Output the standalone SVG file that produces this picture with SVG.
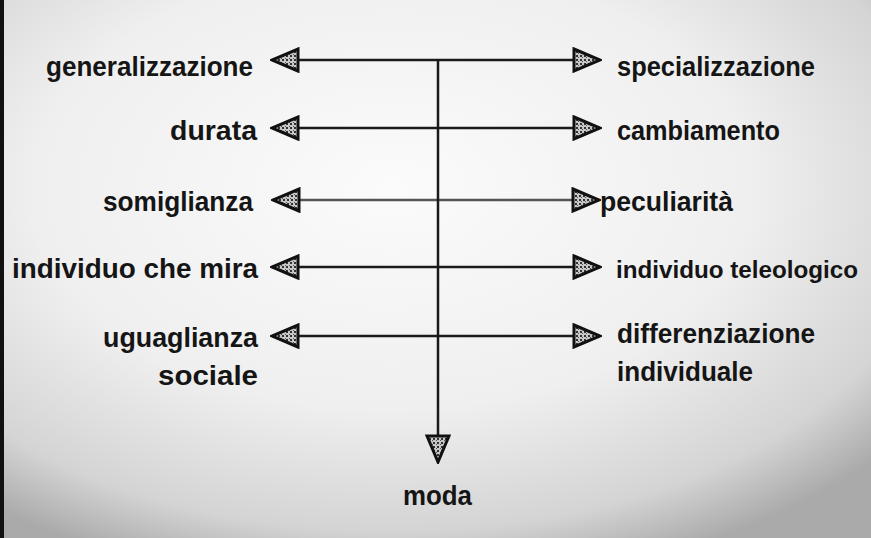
<svg xmlns="http://www.w3.org/2000/svg" width="871" height="538" viewBox="0 0 871 538">
<defs>
<radialGradient id="bg" cx="0.45" cy="0.35" r="0.75">
<stop offset="0" stop-color="#fbfbfb"/>
<stop offset="0.55" stop-color="#efefef"/>
<stop offset="0.85" stop-color="#d4d4d4"/>
<stop offset="1" stop-color="#aaaaaa"/>
</radialGradient>
<pattern id="hatch" width="4" height="4" patternUnits="userSpaceOnUse">
<rect width="4" height="4" fill="#c8c8c8"/>
<rect width="2" height="2" fill="#333"/>
<rect x="2" y="2" width="1" height="1" fill="#555"/>
</pattern>
<marker id="ah" viewBox="0 0 30 26" refX="28" refY="13" markerWidth="30" markerHeight="26" markerUnits="userSpaceOnUse" orient="auto-start-reverse">
<path d="M2,2 L28,13 L2,24 Z" fill="url(#hatch)" stroke="#111" stroke-width="3" stroke-linejoin="miter"/>
</marker>
</defs>
<style>
text{font-family:"Liberation Sans",Arial,sans-serif;font-size:27px;font-weight:bold;fill:#151515}
.ln{stroke:#1a1a1a;stroke-width:2.5;fill:none}
</style>
<rect width="871" height="538" fill="url(#bg)"/>
<rect x="0" y="0" width="4" height="538" fill="#111"/>
<g id="connectors">
<line class="ln" x1="272" y1="60" x2="600" y2="60" marker-start="url(#ah)" marker-end="url(#ah)"/>
<line class="ln" x1="272" y1="128" x2="600" y2="128" marker-start="url(#ah)" marker-end="url(#ah)"/>
<line class="ln" x1="273" y1="200" x2="599" y2="200" marker-start="url(#ah)" marker-end="url(#ah)" style="stroke:#555"/>
<line class="ln" x1="272" y1="267" x2="600" y2="267" marker-start="url(#ah)" marker-end="url(#ah)"/>
<line class="ln" x1="272" y1="336" x2="600" y2="336" marker-start="url(#ah)" marker-end="url(#ah)"/>
<line class="ln" x1="438" y1="60" x2="438" y2="462" marker-end="url(#ah)"/>
</g>
<g id="n-generalizzazione"><text x="46" y="76" textLength="207" lengthAdjust="spacingAndGlyphs">generalizzazione</text></g>
<g id="n-specializzazione"><text x="617" y="76" textLength="198" lengthAdjust="spacingAndGlyphs">specializzazione</text></g>
<g id="n-durata"><text x="170" y="140" textLength="87" lengthAdjust="spacingAndGlyphs">durata</text></g>
<g id="n-cambiamento"><text x="617" y="140" textLength="163" lengthAdjust="spacingAndGlyphs">cambiamento</text></g>
<g id="n-somiglianza"><text x="103" y="211" textLength="150" lengthAdjust="spacingAndGlyphs">somiglianza</text></g>
<g id="n-peculiarita"><text x="600" y="211" textLength="133" lengthAdjust="spacingAndGlyphs">peculiarità</text></g>
<g id="n-individuo-che-mira"><text x="12" y="278" textLength="246" lengthAdjust="spacingAndGlyphs">individuo che mira</text></g>
<g id="n-individuo-teleologico"><text x="616" y="278" style="font-size:24px" textLength="242" lengthAdjust="spacingAndGlyphs">individuo teleologico</text></g>
<g id="n-uguaglianza"><text x="103" y="347" textLength="155" lengthAdjust="spacingAndGlyphs">uguaglianza</text><text x="158" y="385" textLength="100" lengthAdjust="spacingAndGlyphs">sociale</text></g>
<g id="n-differenziazione"><text x="617" y="343" textLength="198" lengthAdjust="spacingAndGlyphs">differenziazione</text><text x="617" y="381" textLength="136" lengthAdjust="spacingAndGlyphs">individuale</text></g>
<g id="n-moda"><text x="403" y="505" textLength="69" lengthAdjust="spacingAndGlyphs">moda</text></g>
</svg>
